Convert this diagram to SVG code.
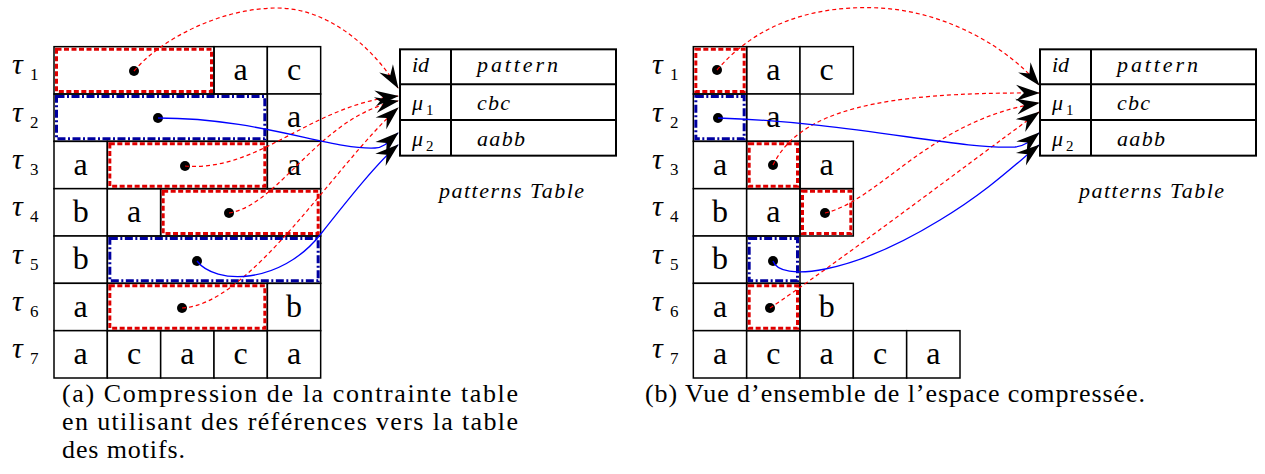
<svg xmlns="http://www.w3.org/2000/svg" width="1265" height="474" viewBox="0 0 1265 474">
<style>
.cell{fill:#fff;stroke:#000;stroke-width:1.5}
.ob{fill:none;stroke:#000;stroke-width:1.5}
.rb{fill:none;stroke:#e00000;stroke-width:3;stroke-dasharray:5 2.5}
.bb{fill:none;stroke:#0000a0;stroke-width:3;stroke-dasharray:8 2.5 2 2.5}
.lt{font-family:"Liberation Serif","DejaVu Serif",serif;font-size:32px;text-anchor:middle}
.tau{font-family:"Liberation Serif","DejaVu Serif",serif;font-style:italic;font-size:30px}
.sub{font-family:"Liberation Serif","DejaVu Serif",serif;font-size:17px}
.tb{fill:none;stroke:#000;stroke-width:2}
.ti{font-family:"Liberation Serif","DejaVu Serif",serif;font-style:italic;font-size:22px}
.tis{font-family:"Liberation Serif","DejaVu Serif",serif;font-size:15px}
.cap{font-family:"Liberation Serif","DejaVu Serif",serif;font-size:26px}
.rc{fill:none;stroke:#ff0000;stroke-width:1.2;stroke-dasharray:4 3}
.bc{fill:none;stroke:#0000ff;stroke-width:1.3}
.dot{fill:#000}
</style>
<defs>
<marker id="ah" viewBox="-25 -9 27 18" refX="0" refY="0" markerWidth="27" markerHeight="18" markerUnits="userSpaceOnUse" orient="auto">
<path d="M1,0 L-23,-8 L-15,0 L-23,8 Z" fill="#000"/>
</marker>
</defs>
<rect width="1265" height="474" fill="#fff"/>

<g id="a-labels">
<text class="tau" x="12" y="74.3">τ</text><text class="sub" x="30" y="80.3">1</text>
<text class="tau" x="12" y="121.7">τ</text><text class="sub" x="30" y="127.7">2</text>
<text class="tau" x="12" y="169">τ</text><text class="sub" x="30" y="175">3</text>
<text class="tau" x="12" y="216.3">τ</text><text class="sub" x="30" y="222.3">4</text>
<text class="tau" x="12" y="263.7">τ</text><text class="sub" x="30" y="269.7">5</text>
<text class="tau" x="12" y="311">τ</text><text class="sub" x="30" y="317">6</text>
<text class="tau" x="12" y="358.3">τ</text><text class="sub" x="30" y="364.3">7</text>
</g>

<g id="a-row1">
<rect class="cell" x="214" y="46.67" width="53.33" height="47.33"/><text class="lt" x="240.67" y="79.8">a</text>
<rect class="cell" x="267.33" y="46.67" width="53.33" height="47.33"/><text class="lt" x="294" y="79.8">c</text>
</g>
<g id="a-row2">
<rect class="cell" x="267.33" y="94" width="53.33" height="47.33"/><text class="lt" x="294" y="127.2">a</text>
</g>
<g id="a-row3">
<rect class="cell" x="54" y="141.33" width="53.33" height="47.33"/><text class="lt" x="80.67" y="174.5">a</text>
<rect class="cell" x="267.33" y="141.33" width="53.33" height="47.33"/><text class="lt" x="294" y="174.5">a</text>
</g>
<g id="a-row4">
<rect class="cell" x="54" y="188.67" width="53.33" height="47.33"/><text class="lt" x="80.67" y="221.8">b</text>
<rect class="cell" x="107.33" y="188.67" width="53.33" height="47.33"/><text class="lt" x="134" y="221.8">a</text>
</g>
<g id="a-row5">
<rect class="cell" x="54" y="236" width="53.33" height="47.33"/><text class="lt" x="80.67" y="269.2">b</text>
</g>
<g id="a-row6">
<rect class="cell" x="54" y="283.33" width="53.33" height="47.33"/><text class="lt" x="80.67" y="316.5">a</text>
<rect class="cell" x="267.33" y="283.33" width="53.33" height="47.33"/><text class="lt" x="294" y="316.5">b</text>
</g>
<g id="a-row7">
<rect class="cell" x="54" y="330.67" width="53.33" height="47.33"/><text class="lt" x="80.67" y="363.8">a</text>
<rect class="cell" x="107.33" y="330.67" width="53.33" height="47.33"/><text class="lt" x="134" y="363.8">c</text>
<rect class="cell" x="160.67" y="330.67" width="53.33" height="47.33"/><text class="lt" x="187.33" y="363.8">a</text>
<rect class="cell" x="214" y="330.67" width="53.33" height="47.33"/><text class="lt" x="240.67" y="363.8">c</text>
<rect class="cell" x="267.33" y="330.67" width="53.33" height="47.33"/><text class="lt" x="294" y="363.8">a</text>
</g>

<g id="a-box1"><rect class="ob" x="54" y="46.67" width="160" height="47.33"/><rect class="rb" x="56.5" y="49.17" width="155" height="42.33"/><circle class="dot" cx="134" cy="71" r="5"/></g>
<g id="a-box2"><rect class="ob" x="54" y="94" width="213.33" height="47.33"/><rect class="bb" x="56.5" y="96.5" width="208.33" height="42.33"/><circle class="dot" cx="158" cy="118" r="5"/></g>
<g id="a-box3"><rect class="ob" x="107.33" y="141.33" width="160" height="47.33"/><rect class="rb" x="109.83" y="143.83" width="155" height="42.33"/><circle class="dot" cx="185" cy="166" r="5"/></g>
<g id="a-box4"><rect class="ob" x="160.67" y="188.67" width="160" height="47.33"/><rect class="rb" x="163.17" y="191.17" width="155" height="42.33"/><circle class="dot" cx="229" cy="213" r="5"/></g>
<g id="a-box5"><rect class="ob" x="107.33" y="236" width="213.33" height="47.33"/><rect class="bb" x="109.83" y="238.5" width="208.33" height="42.33"/><circle class="dot" cx="197" cy="261" r="5"/></g>
<g id="a-box6"><rect class="ob" x="107.33" y="283.33" width="160" height="47.33"/><rect class="rb" x="109.83" y="285.83" width="155" height="42.33"/><circle class="dot" cx="182" cy="308" r="5"/></g>

<g id="a-table">
<rect class="tb" x="400" y="49.33" width="216" height="106.33"/>
<line class="tb" x1="400" y1="84.33" x2="616" y2="84.33"/>
<line class="tb" x1="400" y1="120" x2="616" y2="120"/>
<line class="tb" x1="451" y1="49.33" x2="451" y2="155.67"/>
<text class="ti" x="412" y="72">id</text>
<text class="ti" x="477" y="72" textLength="81" lengthAdjust="spacing">pattern</text>
<text class="ti" x="412" y="110">μ</text><text class="tis" x="426" y="115">1</text>
<text class="ti" x="477" y="110" textLength="33" lengthAdjust="spacing">cbc</text>
<text class="ti" x="412" y="145.5">μ</text><text class="tis" x="426" y="150.5">2</text>
<text class="ti" x="477" y="145.5" textLength="48" lengthAdjust="spacing">aabb</text>
<text class="ti" x="439" y="198" textLength="145" lengthAdjust="spacing">patterns Table</text>
</g>

<g id="a-caption">
<text class="cap" x="62" y="402" textLength="456" lengthAdjust="spacing">(a) Compression de la contrainte table</text>
<text class="cap" x="62" y="430" textLength="456" lengthAdjust="spacing">en utilisant des références vers la table</text>
<text class="cap" x="62" y="458" textLength="123" lengthAdjust="spacing">des motifs.</text>
</g>

<g id="b-labels">
<text class="tau" x="652" y="74.3">τ</text><text class="sub" x="670" y="80.3">1</text>
<text class="tau" x="652" y="121.7">τ</text><text class="sub" x="670" y="127.7">2</text>
<text class="tau" x="652" y="169">τ</text><text class="sub" x="670" y="175">3</text>
<text class="tau" x="652" y="216.3">τ</text><text class="sub" x="670" y="222.3">4</text>
<text class="tau" x="652" y="263.7">τ</text><text class="sub" x="670" y="269.7">5</text>
<text class="tau" x="652" y="311">τ</text><text class="sub" x="670" y="317">6</text>
<text class="tau" x="652" y="358.3">τ</text><text class="sub" x="670" y="364.3">7</text>
</g>

<g id="b-row1">
<rect class="cell" x="746.67" y="46.67" width="53.33" height="47.33"/><text class="lt" x="773.33" y="79.8">a</text>
<rect class="cell" x="800" y="46.67" width="53.33" height="47.33"/><text class="lt" x="826.67" y="79.8">c</text>
</g>
<g id="b-row2">
<rect class="cell" x="746.67" y="94" width="53.33" height="47.33"/><text class="lt" x="773.33" y="127.2">a</text>
</g>
<g id="b-row3">
<rect class="cell" x="693.33" y="141.33" width="53.33" height="47.33"/><text class="lt" x="720" y="174.5">a</text>
<rect class="cell" x="800" y="141.33" width="53.33" height="47.33"/><text class="lt" x="826.67" y="174.5">a</text>
</g>
<g id="b-row4">
<rect class="cell" x="693.33" y="188.67" width="53.33" height="47.33"/><text class="lt" x="720" y="221.8">b</text>
<rect class="cell" x="746.67" y="188.67" width="53.33" height="47.33"/><text class="lt" x="773.33" y="221.8">a</text>
</g>
<g id="b-row5">
<rect class="cell" x="693.33" y="236" width="53.33" height="47.33"/><text class="lt" x="720" y="269.2">b</text>
</g>
<g id="b-row6">
<rect class="cell" x="693.33" y="283.33" width="53.33" height="47.33"/><text class="lt" x="720" y="316.5">a</text>
<rect class="cell" x="800" y="283.33" width="53.33" height="47.33"/><text class="lt" x="826.67" y="316.5">b</text>
</g>
<g id="b-row7">
<rect class="cell" x="693.33" y="330.67" width="53.33" height="47.33"/><text class="lt" x="720" y="363.8">a</text>
<rect class="cell" x="746.67" y="330.67" width="53.33" height="47.33"/><text class="lt" x="773.33" y="363.8">c</text>
<rect class="cell" x="800" y="330.67" width="53.33" height="47.33"/><text class="lt" x="826.67" y="363.8">a</text>
<rect class="cell" x="853.33" y="330.67" width="53.33" height="47.33"/><text class="lt" x="880" y="363.8">c</text>
<rect class="cell" x="906.67" y="330.67" width="53.33" height="47.33"/><text class="lt" x="933.33" y="363.8">a</text>
</g>

<g id="b-box1"><rect class="ob" x="693.33" y="46.67" width="53.33" height="47.33"/><rect class="rb" x="695.83" y="49.17" width="48.33" height="42.33"/><circle class="dot" cx="717" cy="70" r="5"/></g>
<g id="b-box2"><rect class="ob" x="693.33" y="94" width="53.33" height="47.33"/><rect class="bb" x="695.83" y="96.5" width="48.33" height="42.33"/><circle class="dot" cx="718" cy="118" r="5"/></g>
<g id="b-box3"><rect class="ob" x="746.67" y="141.33" width="53.33" height="47.33"/><rect class="rb" x="749.17" y="143.83" width="48.33" height="42.33"/><circle class="dot" cx="773" cy="165" r="5"/></g>
<g id="b-box4"><rect class="ob" x="800" y="188.67" width="53.33" height="47.33"/><rect class="rb" x="802.5" y="191.17" width="48.33" height="42.33"/><circle class="dot" cx="825" cy="213" r="5"/></g>
<g id="b-box5"><rect class="ob" x="746.67" y="236" width="53.33" height="47.33"/><rect class="bb" x="749.17" y="238.5" width="48.33" height="42.33"/><circle class="dot" cx="773" cy="261" r="5"/></g>
<g id="b-box6"><rect class="ob" x="746.67" y="283.33" width="53.33" height="47.33"/><rect class="rb" x="749.17" y="285.83" width="48.33" height="42.33"/><circle class="dot" cx="770" cy="308" r="5"/></g>

<g id="b-table">
<rect class="tb" x="1040" y="49.33" width="216" height="106.33"/>
<line class="tb" x1="1040" y1="84.33" x2="1256" y2="84.33"/>
<line class="tb" x1="1040" y1="120" x2="1256" y2="120"/>
<line class="tb" x1="1091" y1="49.33" x2="1091" y2="155.67"/>
<text class="ti" x="1052" y="72">id</text>
<text class="ti" x="1117" y="72" textLength="81" lengthAdjust="spacing">pattern</text>
<text class="ti" x="1052" y="110">μ</text><text class="tis" x="1066" y="115">1</text>
<text class="ti" x="1117" y="110" textLength="33" lengthAdjust="spacing">cbc</text>
<text class="ti" x="1052" y="145.5">μ</text><text class="tis" x="1066" y="150.5">2</text>
<text class="ti" x="1117" y="145.5" textLength="48" lengthAdjust="spacing">aabb</text>
<text class="ti" x="1079" y="198" textLength="145" lengthAdjust="spacing">patterns Table</text>
</g>

<g id="b-caption">
<text class="cap" x="645" y="402" textLength="500" lengthAdjust="spacing">(b) Vue d’ensemble de l’espace compressée.</text>
</g>

<g id="connectors">
<path class="rc" marker-end="url(#ah)" d="M134,71 C160,40 220,8 277,8 C330,8 375,50 398,88"/>
<path class="rc" marker-end="url(#ah)" d="M185,166 C260,172 310,105 398,96"/>
<path class="rc" marker-end="url(#ah)" d="M229,213 C280,205 320,115 398,101"/>
<path class="rc" marker-end="url(#ah)" d="M182,308 C250,305 335,165 398,108"/>
<path class="bc" marker-end="url(#ah)" d="M158,118 C260,118 330,150 375,148 C385,147.5 390,140 398,133"/>
<path class="bc" marker-end="url(#ah)" d="M197,261 C215,285 280,285 320,235 C350,197 378,162 398,145"/>

<path class="rc" marker-end="url(#ah)" d="M717,70 C760,20 820,5 880,8 C950,12 1010,50 1039,85"/>
<path class="rc" marker-end="url(#ah)" d="M773,165 C800,110 880,92 1039,93"/>
<path class="rc" marker-end="url(#ah)" d="M825,213 C880,200 930,120 1039,103"/>
<path class="rc" marker-end="url(#ah)" d="M770,308 C830,268 960,170 1039,112"/>
<path class="bc" marker-end="url(#ah)" d="M718,118 C850,122 960,150 1015,147 C1027,146 1033,138 1039,133"/>
<path class="bc" marker-end="url(#ah)" d="M773,261 C780,282 850,275 940,220 C990,190 1020,160 1039,145"/>
</g>
</svg>
